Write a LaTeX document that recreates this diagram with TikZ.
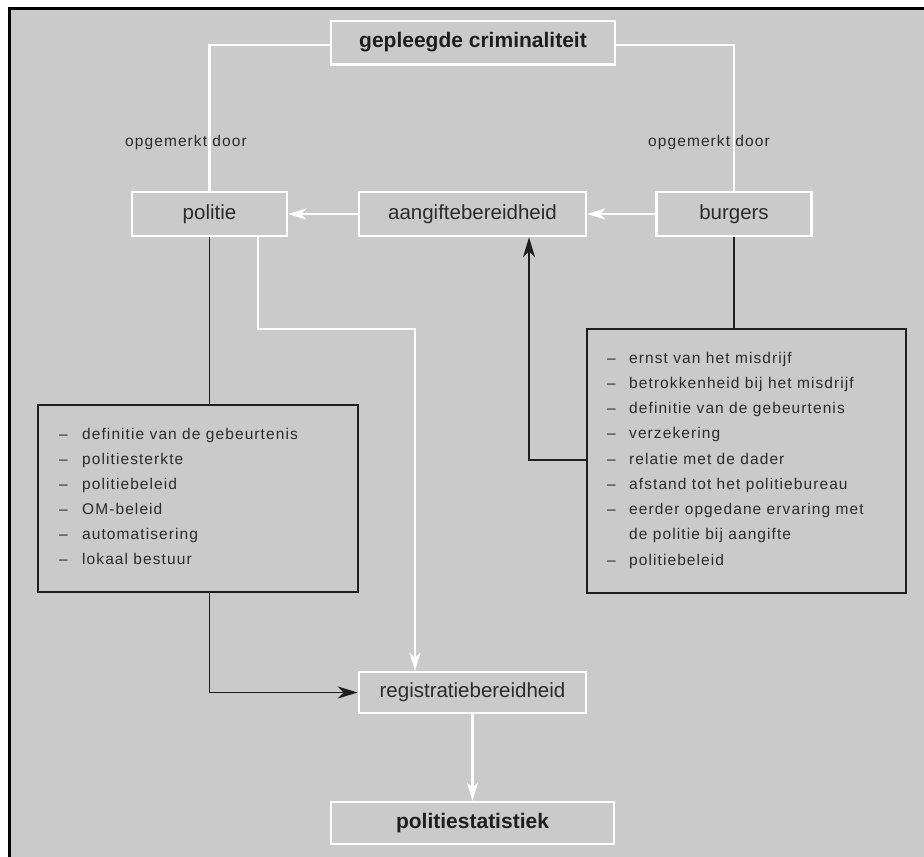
\documentclass[tikz,border=0pt]{standalone}
\usepackage{fontspec}
\setmainfont{Liberation Sans}
\newfontfamily\itemfont[LetterSpace=7]{Liberation Sans}
\usetikzlibrary{arrows.meta}
\definecolor{bg}{HTML}{CACACA}
\definecolor{ink}{HTML}{2B2B2B}
\definecolor{darkline}{HTML}{1E1E1E}
\begin{document}
\begin{tikzpicture}[x=1pt,y=-1pt,
  wbox/.style={draw=white, line width=2.5pt, fill=bg, minimum height=44pt, inner sep=0pt,
    font=\fontsize{20.5}{24}\selectfont, text=ink},
  bbox/.style={wbox, font=\bfseries\fontsize{21}{25}\selectfont, text=darkline},
  listbox/.style={draw=darkline, line width=1.5pt, inner sep=0pt},
  itemtxt/.style={anchor=base west, inner sep=0pt, font=\itemfont\fontsize{15.5}{18}\selectfont, text=ink},
  lbl/.style={inner sep=0pt, font=\itemfont\fontsize{15.5}{18}\selectfont, text=ink},
  wline/.style={draw=white, line width=2.5pt},
  warrow/.style={wline, -{Stealth[length=18pt,width=11pt,inset=5pt]}},
  bline/.style={draw=darkline, line width=1.6pt},
  barrow/.style={bline, -{Stealth[length=20pt,width=12pt,inset=6pt]}}
]
\useasboundingbox (0,0) rectangle (924,857);
\fill[white] (0,0) rectangle (924,857);
\fill[bg] (9,8) rectangle (924,857);
\draw[black, line width=3pt] (9.5,857) -- (9.5,8.5) -- (924,8.5);

% boxes
\node[bbox, minimum width=284pt, minimum height=43.5pt] (gep) at (473,42.5) {gepleegde criminaliteit};
\node[wbox, minimum width=155pt] (pol) at (209.5,214) {politie};
\node[wbox, minimum width=227pt] (aan) at (472.5,214) {aangiftebereidheid};
\node[wbox, minimum width=155pt] (bur) at (734,214) {burgers};
\node[wbox, minimum width=227pt, minimum height=41pt] (reg) at (472.5,692.5) {registratiebereidheid};
\node[bbox, minimum width=283pt, minimum height=42pt] (stat) at (472.5,823) {politiestatistiek};
\node[listbox, minimum width=320pt, minimum height=187pt] (llist) at (198,498.5) {};
\node[listbox, minimum width=319pt, minimum height=264pt] (rlist) at (746.5,461) {};

% list items
\foreach \t [count=\i from 0] in {definitie van de gebeurtenis, politiesterkte, politiebeleid,
    OM-beleid, automatisering, lokaal bestuur}
  \node[itemtxt] (li\i) at (59,439+25*\i) {\makebox[23pt][l]{–}\t};
\foreach \d/\t [count=\i from 0] in {–/ernst van het misdrijf, –/betrokkenheid bij het misdrijf,
    –/definitie van de gebeurtenis, –/verzekering, –/relatie met de dader,
    –/afstand tot het politiebureau, –/eerder opgedane ervaring met,
    {}/de politie bij aangifte, –/politiebeleid}
  \node[itemtxt] (ri\i) at (607,363+25.25*\i) {\makebox[22pt][l]{\d}\t};

% white connectors
\draw[wline] ([yshift=-2.5pt]gep.west) -| (pol.north);
\draw[wline] ([yshift=-2.5pt]gep.east) -| (bur.north);
\node[lbl] (op1) at (186,142) {opgemerkt door};
\node[lbl] (op2) at (709,142) {opgemerkt door};
\draw[warrow] (aan.west) -- (pol.east);
\draw[warrow] (bur.west) -- (aan.east);
\coordinate (wbend) at (258,329);
\coordinate (wx) at (415,0);
\draw[warrow] (pol.south -| wbend) -- (wbend) -| (reg.north -| wx);
\draw[warrow] (reg.south) -- (stat.north);

% black connectors
\draw[bline] (pol.south) -- (pol.south |- llist.north);
\draw[barrow] (llist.south -| pol.south) |- (reg.west);
\draw[bline] (bur.south) -- (bur.south |- rlist.north);
\coordinate (bx) at (529,460);
\draw[barrow] (rlist.west |- bx) -| (aan.south -| bx);
\end{tikzpicture}
\end{document}
